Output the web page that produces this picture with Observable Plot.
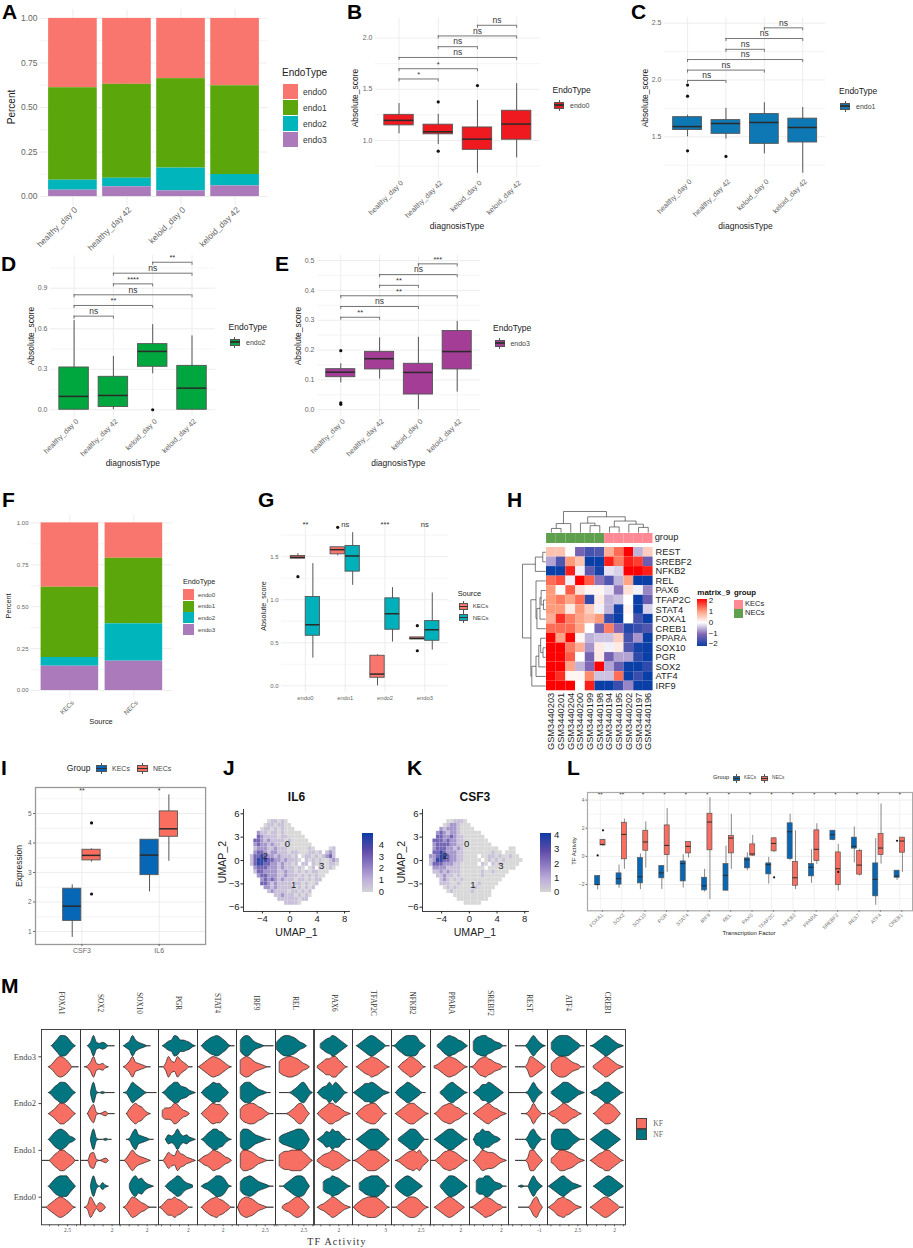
<!DOCTYPE html>
<html><head><meta charset="utf-8">
<script src="https://cdn.jsdelivr.net/npm/d3@7"></script>
<script src="https://cdn.jsdelivr.net/npm/@observablehq/plot@0.6"></script>
<style>
html,body{margin:0;padding:0;background:#fff}
#root{position:relative;width:913px;height:1248px;overflow:hidden;font-family:"Liberation Sans",Arial,sans-serif}
#root>div{position:absolute;white-space:nowrap;line-height:1}
</style></head><body><div id="root"></div>
<script>
// ---------- DATA ----------
const endoTypes=["endo0","endo1","endo2","endo3"];
const endoColors=["#F8766D","#5BA60A","#00B5BC","#AB7ABA"];
const diagnosis=["healthy_day 0","healthy_day 42","keloid_day 0","keloid_day 42"];
// segment heights: endo3, endo2, endo1, endo0
const pctA=[[.036,.056,.519,.389],[.055,.048,.527,.37],[.032,.128,.502,.338],[.06,.064,.498,.378]];
const sources=["KECs","NECs"];
const pctF=[[.145,.052,.419,.384],[.175,.223,.391,.211]];
// box stats: lo,q1,med,q3,hi,[outliers]
const boxesB=[[1.065,1.147,1.196,1.25,1.36,[]],[.96,1.06,1.085,1.154,1.255,[1.376,.895]],[.68,.908,1.013,1.127,1.39,[1.536]],[.83,1.007,1.16,1.29,1.555,[]]];
const bracketsB=[[1,2,1.6,"*"],[1,3,1.7,"*"],[1,4,1.81,"ns"],[2,3,1.915,"ns"],[2,4,2.02,"ns"],[3,4,2.124,"ns"]];
const boxesC=[[1.5,1.56,1.59,1.673,1.69,[1.955,1.858,1.377]],[1.48,1.526,1.617,1.647,1.75,[1.327]],[1.35,1.438,1.626,1.7,1.8,[]],[1.18,1.45,1.582,1.66,1.758,[]]];
const bracketsC=[[1,2,1.996,"ns"],[1,3,2.087,"ns"],[1,4,2.18,"ns"],[2,3,2.27,"ns"],[2,4,2.365,"ns"],[3,4,2.459,"ns"]];
const boxesD=[[0,0,.099,.313,.66,[]],[0,.02,.106,.244,.395,[]],[.266,.318,.432,.486,.63,[0]],[0,0,.16,.325,.547,[]]];
const bracketsD=[[1,2,.693,"ns"],[1,3,.772,"**"],[1,4,.851,"ns"],[2,3,.932,"****"],[2,4,1.011,"ns"],[3,4,1.092,"**"]];
const boxesE=[[.09,.109,.126,.136,.154,[.198,.023,.018]],[.103,.135,.171,.194,.241,[]],[0,.051,.125,.154,.243,[]],[.059,.135,.195,.264,.296,[]]];
const bracketsE=[[1,2,.31,"**"],[1,3,.346,"ns"],[1,4,.382,"**"],[2,3,.417,"**"],[2,4,.453,"ns"],[3,4,.489,"***"]];
const boxesGK=[[1.477,1.477,1.492,1.508,1.535,[1.267]],[1.51,1.527,1.581,1.609,1.609,[1.841]],[0,.093,.136,.349,.36,[]],[.54,.54,.55,.562,.554,[.698,.407]]];
const boxesGN=[[.322,.581,.709,1.031,1.419,[]],[1.167,1.326,1.508,1.624,1.779,[]],[.508,.651,.837,1.016,1.14,[]],[.415,.523,.651,.752,1.078,[]]];
const sigG=["**","ns","***","ns"];
const exprGenes=["CSF3","IL6"];
const boxesIK=[[.8,1.36,1.86,2.45,2.58,[]],[2.34,2.91,3.59,4.11,4.11,[]]];
const boxesIN=[[3.35,3.41,3.58,3.77,3.8,[4.68,2.27]],[3.38,4.21,4.48,5.07,5.63,[]]];
const sigI=["**","*"];
const tfL=["FOXA1","SOX2","SOX10","PGR","STAT4","IRF9","REL","PAX6","TFAP2C","NFKB2","PPARA","SREBF2","REST","ATF4","CREB1"];
const boxesLK=[[-2.39,-2.04,-2.01,-1.4,-1.4,[.07]],[-2.27,-2.01,-1.59,-1.21,-.62,[]],[-2.37,-1.92,-1.45,-.12,.17,[]],[-2.35,-1.56,-1.18,-.69,-.69,[]],[-2.25,-1.78,-.52,-.36,.12,[]],[-2.54,-2.42,-2.09,-1.52,-.92,[]],[-2.44,-2.44,-1.35,-.55,.73,[]],[-1.02,-.85,-.24,-.14,.26,[]],[-1.97,-1.28,-.59,-.5,-.07,[]],[-.31,-.19,1.75,2.35,2.99,[]],[-1.92,-1.42,-.78,-.55,.47,[]],[1.11,1.16,1.54,1.82,1.82,[]],[-.47,.55,.71,1.33,2.09,[]],[-3.48,-2.84,-1.64,-.5,1.26,[]],[-1.71,-1.52,-1.4,-1.02,-1.02,[1.11]]];
const boxesLN=[[.69,.78,.85,1.16,1.23,[1.85]],[-.92,-.21,1.56,2.39,2.65,[]],[-.83,.4,1.02,1.82,2.44,[]],[-1.14,.09,.78,2.2,3.39,[]],[-.12,.21,.71,1.02,1.02,[]],[-3.08,.43,2.44,3.03,4.17,[]],[-.92,.21,1.3,1.45,2.99,[]],[0,.05,.17,.85,1.49,[]],[.26,.36,.92,1.28,1.35,[-1.49]],[-2.37,-2.09,-1.52,-.4,1.82,[]],[-.57,-.33,.5,1.85,2.32,[]],[-2.46,-2.04,-.88,.28,.85,[-1.11]],[-1.4,-1.3,-.62,.38,.5,[]],[-.55,.09,.59,1.59,3.72,[]],[-1.14,.26,1.09,1.33,1.35,[]]];
const sigL=["**","**","*","*","*","*","*","*","*","*","*","*","*","*","*"];
// heatmap
const samples=["GSM3440203","GSM3440201","GSM3440204","GSM3440200","GSM3440199","GSM3440198","GSM3440194","GSM3440195","GSM3440202","GSM3440197","GSM3440196"];
const sampleGroups=["NECs","NECs","NECs","NECs","NECs","NECs","KECs","KECs","KECs","KECs","KECs"];
const heatTFs=["REST","SREBF2","NFKB2","REL","PAX6","TFAP2C","STAT4","FOXA1","CREB1","PPARA","SOX10","PGR","SOX2","ATF4","IRF9"];
const heatValues=[
[.6,.6,0,-1.1,-1.5,-1.4,.8,1.3,2,-.5,.5],
[-.6,-1.4,1,.6,-2,-2,1.8,1.2,1.8,1.6,-1.2],
[-2,-2,1.8,-.1,-1.3,-1.9,-.2,-.3,2,2,1.8],
[1.3,1.5,-.1,2,1.4,-.9,-1.4,-.5,.9,-2,-2],
[1,0,1.4,.3,.1,.1,-.2,-.9,.3,-.1,-.8],
[1,1.2,.9,1.3,-1.7,.2,-.5,-.4,0,-2,-1.2],
[1,1,.2,1,.5,-.1,-.5,-1.9,.1,-2,-.3],
[.8,1.7,1.2,.9,.7,1,-1.6,-2,0,-1.5,-2],
[1.3,1.3,1.3,.9,0,-1.1,1.2,-1,-1.8,-1.6,-1.4],
[2,.9,2,.1,-.5,-.4,-.4,.5,-1.5,-.7,-2],
[2,2,1.2,.8,-.7,.2,-.1,.2,-1.4,-1.9,-2],
[2,2,1.4,0,-1.1,.2,-1.1,-.6,-.6,-1.7,-2],
[2,2,.9,-.5,-1,2,-.6,-1.2,-2,-2,-1.7],
[2,1.7,.1,.1,1.1,-.4,-.4,1.3,-2,-1.6,-2],
[2,2,2,0,1.8,-2,-2,-1.6,-.8,-2,-2]];
// dendrograms: [height,left,right]
const colTree=[1,[.43,[.2,"GSM3440203","GSM3440201"],"GSM3440204"],[.75,[.45,"GSM3440200",[.33,"GSM3440199","GSM3440198"]],[.55,[.27,"GSM3440194","GSM3440195"],[.4,"GSM3440202",[.25,"GSM3440197","GSM3440196"]]]]];
const rowTree=[1,[.45,[.13,"REST","SREBF2"],"NFKB2"],[.64,[.42,"REL",[.38,[.25,[.2,"PAX6",[.1,"TFAP2C","STAT4"]],"FOXA1"],"CREB1"]],[.6,[.42,[.3,[.22,"PPARA",[.12,"SOX10","PGR"]],"SOX2"],"ATF4"],"IRF9"]]];
// UMAP expression, digit = level on a grid; rows y=5 ... -5.5, cols x=-5.5 ...
const umapIL6=[
".....011010.................",
"....01101100................",
"...0110101000...............",
"..2110110100000.............",
"..32111101100000............",
".3321211110100000...........",
".23221211010000000..........",
".122211211100000010....01...",
".23321221110110001101.121...",
"13343221211101.0110101231..",
"134443322121110.1010100121.",
"13443322121101.11.10100110..",
".233322212111010.01.10010...",
".1332222112110101011000.....",
"..23322211211101010100......",
"...232321211101101011.......",
"...33212111101101001........",
"....221211111010101.........",
".....1211110110101..........",
".......11211101010..........",
"........111111011...........",
"..........11110............."];
const umapCSF3=[
".....001110.................",
"....01221000................",
"...2122210000...............",
"..2321221000000.............",
"..33223211000000............",
".3332322110000000...........",
".23333221100000000..........",
".2333221210000000000...00...",
".33432221100000000100.000...",
"22344322110000.00110100100..",
"124433221100000.01010100000.",
"13332221100000.10.10100000..",
".222211110000000.00000000...",
".1121211100000010010000.....",
"..11211010000001000000......",
"...121010100000000000.......",
"...11100100000100000........",
"....010100000100000.........",
".....0100000100000..........",
".......00000000000..........",
"........000000000...........",
"..........00000............."];
const umapLabels=["0","1","2","3"];
const umapLabelXJ=[-.35,.57,-3.56,4.66], umapLabelYJ=[2.1,-3.08,.55,-.64];
const umapLabelXK=[-.4,.5,-3.5,4.55], umapLabelYK=[2.1,-3.08,.55,-.64];
// violins: each string samples half-height (0-9) across the facet; order Endo3 NF,KF, Endo2 NF,KF, Endo1 NF,KF, Endo0 NF,KF
const vFOXA1=["...036998520.","..02589863000","..0257998520.","..0247997520.","..0368986320.","0002579975300","..0368999630.","002468986410."];
const vSOX2=["..0393232000.",".014932310...","...191010000.","..0581012000.","...19100100..","0006710120...","...1920310...",".02951430...."];
const vSOX10=[".0249532100..",".0259432100..",".015975310000","..047976310..","..0169432100.","00269643210..","...279674210.",".026986431000"];
const vPGR=[".024598554310","003954964200.",".025799654210",".3556985320..","..04359534210","0037549653210","..0357985321.","025779764200."];
const vSTAT4=[".035789864100","024689875310.",".0357988530..",".0358988630..",".02579976310.","024579875320.",".02357998510.",".035789764200"];
const vIRF9=[".589853210000",".68986432100.",".58997532100.",".478998653100",".69986432100.",".699875321000",".478986432100","0689875321000"];
const vREL=["36899875320..",".57899875320.",".000013589620","000013589730.",".24567899850.",".578899997520",".00246899840.","..1346898630."];
const vPAX6=["..2467986420.",".13577996410.",".03569697410.",".035799764210",".024769774200",".135679875310","...4679875310",".023579864210"];
const vTFAP2C=[".024689864200",".024679875310","0246889864210",".03578997410.",".024689997520","0135799986420","..35789997510","0357899986410"];
const vNFKB2=["014689998420.","..0357986410.",".03579864200.",".024689975310","..13579985200",".013578979530",".1468986420..","0024689986310"];
const vPPARA=["..13689875420",".124689875310","...1368975310",".025789865310",".024689975310","0024789875310","...1479986420",".02468986420."];
const vSREBF2=[".478997643200","0147897643200",".02477986420.",".024689754210",".0569775320..",".036987764210","..57799743200","0135798753200"];
const vREST=["..00002696310","..00003986420","000000159520.","....001495200","..00002795200","..0000299630.","...010059520.","...000027940."];
const vATF4=[".368999864200",".368998643200",".135799864210","023579864310.",".489999853100",".247998764210","024689753210.","024789764210."];
const vCREB1=[".013579864210","..13579864210",".023579975310","..0257998630.",".02468986420.",".024679975310","..02468986420",".024689864200"];
const violinGenes=["FOXA1","SOX2","SOX10","PGR","STAT4","IRF9","REL","PAX6","TFAP2C","NFKB2","PPARA","SREBF2","REST","ATF4","CREB1"];
const violinProfiles=[vFOXA1,vSOX2,vSOX10,vPGR,vSTAT4,vIRF9,vREL,vPAX6,vTFAP2C,vNFKB2,vPPARA,vSREBF2,vREST,vATF4,vCREB1];
const violinDomains=[[1.05,3.22],[.24,2.41],[.46,2.63],[.33,2.5],[.57,2.74],[.9,3.07],[.92,3.09],[.59,2.76],[1.16,3.33],[.85,3.02],[.31,2.48],[.22,2.39],[-2.73,-.56],[.81,2.98],[.44,2.61]];
const violinTick=[2.5,2,2,2,2,2.5,2.5,2,3,2.5,2,2,-1,2.5,2];
const endoRows=["Endo0","Endo1","Endo2","Endo3"];

// ---------- HELPERS ----------
const root=document.getElementById("root");
const SANS="'Liberation Sans',Arial,sans-serif", SERIF="'Liberation Serif',serif";
function T(x,y,s,o={}){const d=document.createElement("div");d.textContent=s;
 const a=o.anchor==="start"?"0%":o.anchor==="end"?"-100%":"-50%";
 d.style.cssText=`left:${x}px;top:${y}px;font-size:${o.size||10}px;font-weight:${o.weight||"normal"};color:${o.color||"#222"};font-family:${o.family||SANS};letter-spacing:${o.spacing||0}px;transform:translate(${a},-50%) rotate(${o.rot||0}deg);`;
 root.append(d);}
function R(x,y,w,h,css){const d=document.createElement("div");d.style.cssText=`left:${x}px;top:${y}px;width:${w}px;height:${h}px;box-sizing:border-box;${css}`;root.append(d);}
function boxKey(x,y,w,h,color){R(x+w/2-.4,y-h/2-2,.8,h+4,"background:#555");R(x,y-h/2,w,h,`background:${color};border:1px solid #555`);R(x,y-.6,w,1.2,"background:#333");}
function place(rect,opts,extraStyle={}){const {l,t,r,b}=rect;
 const el=Plot.plot({width:r-l,height:b-t,marginLeft:0,marginRight:0,marginTop:0,marginBottom:0,
  style:{overflow:"visible",background:"transparent",fontFamily:SANS,position:"absolute",left:l+"px",top:t+"px",maxWidth:"none",...extraStyle},...opts});
 root.append(el);return el;}
const GRID="#ebebeb";
const gridY=(maj,min)=>[Plot.gridY(min,{stroke:GRID,strokeOpacity:1,strokeWidth:.5}),Plot.gridY(maj,{stroke:GRID,strokeOpacity:1,strokeWidth:.9})];
function boxMarks(stats,xs,width,color,o={}){
 const d=stats.map((s,i)=>({x:xs[i],lo:s[0],q1:s[1],med:s[2],q3:s[3],hi:s[4]}));
 const out=stats.flatMap((s,i)=>s[5].map(v=>({x:xs[i],v})));
 return [
  Plot.ruleX(d,{x:"x",y1:"lo",y2:"hi",stroke:"#555",strokeWidth:o.sw||1}),
  Plot.rect(d,{x1:e=>e.x-width/2,x2:e=>e.x+width/2,y1:"q1",y2:"q3",fill:color,stroke:"#555",strokeWidth:o.sw||.9}),
  Plot.ruleY(d,{x1:e=>e.x-width/2,x2:e=>e.x+width/2,y:"med",stroke:"#2a2a2a",strokeWidth:o.mw||1.5}),
  Plot.dot(out,{x:"x",y:"v",r:o.r||1.6,fill:"#111"})
 ];
}
function sigPanel(rect,yDomain,maj,min,boxes,brackets,color){
 const tip=3*(yDomain[1]-yDomain[0])/(rect.b-rect.t);
 const xs=[1,2,3,4];
 place(rect,{x:{domain:[.4,4.6]},y:{domain:yDomain},marks:[
  ...gridY(maj,min),
  Plot.ruleX(xs,{stroke:GRID,strokeWidth:.9}),
  ...boxMarks(boxes,xs,.75,color),
  Plot.ruleY(brackets,{x1:d=>d[0],x2:d=>d[1],y:d=>d[2],stroke:"#666",strokeWidth:.9}),
  Plot.ruleX(brackets,{x:d=>d[0],y1:d=>d[2]-tip,y2:d=>d[2],stroke:"#666",strokeWidth:.9}),
  Plot.ruleX(brackets,{x:d=>d[1],y1:d=>d[2]-tip,y2:d=>d[2],stroke:"#666",strokeWidth:.9}),
  Plot.text(brackets.filter(d=>d[3]==="ns"),{x:d=>(d[0]+d[1])/2,y:d=>d[2],text:d=>d[3],dy:-5,fontSize:8.5,fill:"#333"}),
  Plot.text(brackets.filter(d=>d[3]!=="ns"),{x:d=>(d[0]+d[1])/2,y:d=>d[2],text:d=>d[3],dy:-4.5,fontSize:7.5,fill:"#333"}),
  Plot.axisY({ticks:maj,tickFormat:d3.format(".1f"),tickSize:0,tickPadding:3,fontSize:7,color:"#666",label:null}),
  Plot.axisX({ticks:xs,tickFormat:i=>diagnosis[i-1],tickRotate:-45,tickSize:0,tickPadding:3,dx:3,fontSize:7.3,color:"#666",label:null})
 ]});
}
function stackedPanel(rect,cats,pct,yfs,xfs,pad){
 const data=cats.flatMap((c,i)=>endoTypes.map((t,j)=>({cat:c,type:t,v:pct[i][3-j]})));
 place(rect,{x:{domain:cats,paddingInner:.1,paddingOuter:.15,round:false},y:{domain:[-.05,1.05]},
  color:{domain:endoTypes,range:endoColors},marks:[
  ...gridY([0,.25,.5,.75,1],[.125,.375,.625,.875]),
  Plot.ruleX(cats,{x:d=>d,stroke:GRID,strokeWidth:.9}),
  Plot.barY(data,{x:"cat",y:"v",fill:"type",order:["endo3","endo2","endo1","endo0"]}),
  Plot.axisY({ticks:[0,.25,.5,.75,1],tickFormat:d3.format(".2f"),tickSize:0,tickPadding:pad,fontSize:yfs,color:"#666",label:null}),
  Plot.axisX({tickRotate:-45,tickSize:0,tickPadding:pad,dx:3,fontSize:xfs,color:"#666",label:null})
 ]});
}

// ---------- PANEL LETTERS ----------
[["A",2,11],["B",347,10.5],["C",631,10.5],["D",1,262.5],["E",275,262.5],["F",2,499],["G",258,499],["H",507,499],["I",1,767],["J",223,767],["K",407,767],["L",567,767],["M",1,984.5]]
.forEach(([s,x,y])=>T(x,y,s,{size:21,weight:"bold",anchor:"start",color:"#000"}));

// ---------- A ----------
stackedPanel({l:40,r:267,t:9,b:205},diagnosis,pctA,8.5,8.5,3);
T(12,107,"Percent",{size:10,rot:-90});
T(282,73,"EndoType",{size:10,anchor:"start"});
endoTypes.forEach((t,i)=>{R(283,84+i*16,15,15,`background:${endoColors[i]}`);T(303,91.5+i*16,t,{size:8.5,anchor:"start",color:"#333"});});

// ---------- B-E ----------
const SZ=8.5, KS=7;
sigPanel({l:375,r:539.7,t:16.7,b:178},[.626,2.2],[1,1.5,2],[.75,1.25,1.75],boxesB,bracketsB,"#EF1A20");
T(354.7,98,"Absolute_score",{size:SZ,rot:-90});T(457,226,"diagnosisType",{size:SZ});
T(552.5,90,"EndoType",{size:SZ,anchor:"start"});boxKey(554,105,10,7,"#EF1A20");T(570,105,"endo0",{size:KS,anchor:"start",color:"#444"});

sigPanel({l:664,r:825.3,t:16.7,b:176.7},[1.142,2.55],[1.5,2,2.5],[1.25,1.75,2.25],boxesC,bracketsC,"#0E78B4");
T(644.8,98,"Absolute_score",{size:SZ,rot:-90});T(745.5,226,"diagnosisType",{size:SZ});
T(839,91,"EndoType",{size:SZ,anchor:"start"});boxKey(840,106,10,7,"#0E78B4");T(856,106,"endo1",{size:KS,anchor:"start",color:"#444"});

sigPanel({l:50.3,r:215.4,t:255,b:416.7},[-.055,1.142],[0,.3,.6,.9],[.15,.45,.75,1.05],boxesD,bracketsD,"#00A63E");
T(30.5,336,"Absolute_score",{size:SZ,rot:-90});T(132.8,463.3,"diagnosisType",{size:SZ});
T(228.6,327,"EndoType",{size:SZ,anchor:"start"});boxKey(229.7,342,10,7,"#00A63E");T(246,342,"endo2",{size:KS,anchor:"start",color:"#444"});

sigPanel({l:317,r:480,t:255,b:416.7},[-.025,.517],[0,.1,.2,.3,.4,.5],[.05,.15,.25,.35,.45],boxesE,bracketsE,"#A33D96");
T(298,336,"Absolute_score",{size:SZ,rot:-90});T(398.4,463.3,"diagnosisType",{size:SZ});
T(493,328,"EndoType",{size:SZ,anchor:"start"});boxKey(494.6,343,10,7,"#A33D96");T(510.4,343,"endo3",{size:KS,anchor:"start",color:"#444"});

// ---------- F ----------
stackedPanel({l:30.6,r:171.4,t:514.3,b:698.7},sources,pctF,6,6.4,3);
T(9,606,"Percent",{size:7.2,rot:-90});T(101,722,"Source",{size:7.4});
T(183,581.7,"EndoType",{size:7.2,anchor:"start"});
endoTypes.forEach((t,i)=>{R(183.3,589+i*11.7,11,11,`background:${endoColors[i]}`);T(198,594.7+i*11.7,t,{size:6.2,anchor:"start",color:"#444"});});

// ---------- G ----------
{const KC="#F8766D",NC="#00B0BA",cx=[1,2,3,4];
 place({l:280.5,r:447.7,t:520,b:691.7},{x:{domain:[.4,4.6]},y:{domain:[-.074,1.92]},marks:[
  ...gridY([0,.5,1,1.5],[.25,.75,1.25,1.75]),
  Plot.ruleX(cx,{stroke:GRID,strokeWidth:.9}),
  ...boxMarks(boxesGK,cx.map(c=>c-.188),.36,KC),
  ...boxMarks(boxesGN,cx.map(c=>c+.188),.36,NC),
  Plot.text(sigG,{x:(d,i)=>i+1,y:()=>1.875,text:d=>d,fontSize:7.6,fill:"#333"}),
  Plot.axisY({ticks:[0,.5,1,1.5],tickFormat:d3.format(".1f"),tickSize:0,tickPadding:3,fontSize:6,color:"#666",label:null}),
  Plot.axisX({ticks:cx,tickFormat:i=>endoTypes[i-1],tickSize:0,tickPadding:4,fontSize:5.8,color:"#666",label:null})
 ]});
 T(263.7,606,"Absolute_score",{size:7.2,rot:-90});
 T(457.7,593.7,"Source",{size:7.4,anchor:"start"});
 boxKey(459.3,606.3,9,6.5,KC);T(472.7,606.3,"KECs",{size:6.1,anchor:"start",color:"#444"});
 boxKey(459.3,617.7,9,6.5,NC);T(472.7,617.7,"NECs",{size:6.1,anchor:"start",color:"#444"});
}

// ---------- H ----------
{const heatDomain=[-2,-1,0,1,2],heatRange=["#0B3FA8","#8066B4","#FFFFFF","#FF9A7A","#FF0000"];
 const cells=heatTFs.flatMap((tf,i)=>samples.map((s,j)=>({tf,s,v:heatValues[i][j]})));
 const rect={l:545.7,r:652.3,t:546.7,b:690};
 place(rect,{x:{domain:samples,padding:0,round:false},y:{domain:heatTFs,padding:0,round:false},
  color:{type:"linear",domain:heatDomain,range:heatRange,clamp:true},marks:[
  Plot.cell(cells,{x:"s",y:"tf",fill:"v"}),
  Plot.axisX({anchor:"bottom",tickRotate:-90,tickSize:0,tickPadding:2,fontSize:9.3,color:"#222",label:null}),
  Plot.axisY({anchor:"right",tickSize:0,tickPadding:2.5,fontSize:9.3,color:"#222",label:null})
 ]});
 place({l:545.7,r:652.3,t:533.3,b:543.3},{x:{domain:samples,padding:0,round:false,axis:null},
  color:{domain:["KECs","NECs"],range:["#FF8A96","#5FA04E"]},marks:[
  Plot.cell(samples.map((s,i)=>({s,g:sampleGroups[i]})),{x:"s",fill:"g"})]});
 T(654.7,538,"group",{size:9.3,anchor:"start"});
 const layout=(node,order,segs)=>{ if(typeof node==="string")return {p:order.indexOf(node)+.5,h:0};
  const a=layout(node[1],order,segs),b=layout(node[2],order,segs),h=node[0];
  segs.push({p1:a.p,h1:a.h,p2:a.p,h2:h},{p1:a.p,h1:h,p2:b.p,h2:h},{p1:b.p,h1:b.h,p2:b.p,h2:h});
  return {p:(a.p+b.p)/2,h};};
 const segC=[];layout(colTree,samples,segC);
 place({l:545.7,r:652.3,t:510.5,b:531.7},{x:{domain:[0,11],axis:null},y:{domain:[0,1],axis:null},marks:[
  Plot.link(segC,{x1:"p1",x2:"p2",y1:"h1",y2:"h2",stroke:"#444",strokeWidth:.7})]});
 const segR=[];layout(rowTree,heatTFs,segR);
 place({l:521.7,r:545,t:546.7,b:690},{x:{domain:[1,0],axis:null},y:{domain:[15,0],axis:null},marks:[
  Plot.link(segR,{y1:"p1",y2:"p2",x1:"h1",x2:"h2",stroke:"#444",strokeWidth:.7})]});
 T(697.3,593,"matrix_9",{size:8,weight:"bold",anchor:"start",color:"#111"});
 R(697.3,599.3,9.4,46.7,"background:linear-gradient(to bottom,#FF0000,#FF9A7A 25%,#FFFFFF 50%,#8066B4 75%,#0B3FA8)");
 [["2",600.7],["1",612],["0",623],["\u22121",634],["\u22122",644.3]].forEach(([s,y])=>T(708.7,y,s,{size:8,anchor:"start"}));
 T(734,593,"group",{size:7.8,weight:"bold",anchor:"start",color:"#111"});
 R(734,600,8.7,8.7,"background:#FF8A96");R(734,608.9,8.7,8.7,"background:#5FA04E");
 T(745,604.3,"KECs",{size:7.5,anchor:"start"});T(745,613.2,"NECs",{size:7.5,anchor:"start"});
}

// ---------- I ----------
{const KC="#0567B5",NC="#FA6E60",cx=[1,2];
 place({l:34.5,r:204.6,t:787.3,b:944.3},{x:{domain:[.4,2.6]},y:{domain:[.56,5.88]},marks:[
  ...gridY([1,2,3,4,5],[1.5,2.5,3.5,4.5,5.5]),
  Plot.ruleX(cx,{stroke:GRID,strokeWidth:.9}),
  ...boxMarks(boxesIK,cx.map(c=>c-.125),.235,KC),
  ...boxMarks(boxesIN,cx.map(c=>c+.125),.235,NC),
  Plot.text(sigI,{x:(d,i)=>i+1,y:()=>5.78,text:d=>d,fontSize:7,fill:"#333"}),
  Plot.frame({stroke:"#999",strokeWidth:1.3}),
  Plot.axisY({ticks:[1,2,3,4,5],tickFormat:d3.format("d"),tickSize:2,tickPadding:2,fontSize:6.5,color:"#666",label:null}),
  Plot.axisX({ticks:cx,tickFormat:i=>exprGenes[i-1],tickSize:2,tickPadding:2,fontSize:7,color:"#666",label:null})
 ]});
 T(19.4,865.7,"Expression",{size:8.5,rot:-90});
 T(66.8,768.3,"Group",{size:8.5,anchor:"start"});
 boxKey(96.2,768.3,10.8,7.5,KC);T(112,768.3,"KECs",{size:7,anchor:"start",color:"#444"});
 boxKey(137,768.3,10.8,7.5,NC);T(153,768.3,"NECs",{size:7,anchor:"start",color:"#444"});
}

// ---------- J, K ----------
function umapPanel(rows,xDomain,rect,title,labX,labY,titleX,yLabX,barX,barTicks,labelX){
 const cells=rows.flatMap((row,r)=>[...row].flatMap((c,i)=>c==="."?[]:[{x:-5.5+.5*i,y:5-.5*r,v:+c}]));
 place(rect,{x:{domain:xDomain,axis:null},y:{domain:[-6.55,6.55],axis:null},
  color:{type:"linear",domain:[0,1,2,3,4],range:["#D8D8D8","#C9C1DA","#A497CB","#7566B5","#3346A6"]},marks:[
  Plot.rect(cells,{x1:d=>d.x-.25,x2:d=>d.x+.25,y1:d=>d.y-.25,y2:d=>d.y+.25,fill:"v"})]},{filter:"blur(0.7px)"});
 place(rect,{x:{domain:xDomain},y:{domain:[-6.55,6.55]},marks:[
  Plot.text(umapLabels,{x:(d,i)=>labX[i],y:(d,i)=>labY[i],text:d=>d,fontSize:9.5,fill:"#222"}),
  Plot.ruleX([xDomain[0]],{stroke:"#222",strokeWidth:.9}),
  Plot.ruleY([-6.55],{stroke:"#222",strokeWidth:.9}),
  Plot.axisY({ticks:[-6,-3,0,3,6],tickFormat:d3.format("d"),tickSize:2.5,tickPadding:1.5,fontSize:9.5,color:"#222",label:null}),
  Plot.axisX({ticks:[-4,0,4,8],tickFormat:d3.format("d"),tickSize:2.5,tickPadding:1.5,fontSize:9.5,color:"#222",label:null})
 ]});
 T(titleX,796.7,title,{size:12,weight:"bold",color:"#111"});
 T(titleX,931.7,"UMAP_1",{size:10.6});
 T(yLabX,861.7,"UMAP_2",{size:10.6,rot:-90});
 R(barX,833.3,11.5,58.7,"background:linear-gradient(to bottom,#0C3BA5,#5F4BA9 30%,#8F7CC3 55%,#BDAEDA 78%,#D4D4D4)");
 barTicks.forEach(([s,y])=>T(labelX,y,s,{size:9.5,anchor:"start"}));
}
umapPanel(umapIL6,[-6.76,8.85],{l:243.4,r:350.3,t:809,b:911},"IL6",umapLabelXJ,umapLabelYJ,296.5,222,361.8,[["4",845],["3",856.7],["2",868.3],["1",880],["0",892]],378.7);
umapPanel(umapCSF3,[-6.76,8.67],{l:421.8,r:528.7,t:809,b:911},"CSF3",umapLabelXK,umapLabelYK,474.9,400.6,539.5,[["4",835],["3",849.3],["2",863.7],["1",877.7],["0",892]],554);

// ---------- L ----------
{const KC="#0567B5",NC="#FA6E60",cx=tfL.map((d,i)=>i+1);
 place({l:586.9,r:912,t:791.7,b:910},{x:{domain:[.4,15.6]},y:{domain:[-3.87,4.54]},marks:[
  ...gridY([-2,0,2,4],[-3,-1,1,3]),
  Plot.ruleX(cx,{stroke:GRID,strokeWidth:.7}),
  ...boxMarks(boxesLK,cx.map(c=>c-.125),.234,KC,{sw:.7,mw:1,r:1.1}),
  ...boxMarks(boxesLN,cx.map(c=>c+.125),.234,NC,{sw:.7,mw:1,r:1.1}),
  Plot.text(sigL,{x:(d,i)=>i+1,y:()=>4.4,text:d=>d,fontSize:6.5,fill:"#333"}),
  Plot.frame({stroke:"#aaa",strokeWidth:1.2}),
  Plot.axisY({ticks:[-2,0,2,4],tickFormat:d3.format("d"),tickSize:1.5,tickPadding:1.5,fontSize:5,color:"#666",label:null}),
  Plot.axisX({ticks:cx,tickFormat:i=>tfL[i-1],tickRotate:-45,tickSize:1.5,tickPadding:2,dx:2,fontSize:5.2,color:"#777",label:null})
 ]});
 T(749,933.3,"Transcription Factor",{size:6});
 T(574.3,851,"TF Activity",{size:6,rot:-90});
 T(713,778.3,"Group",{size:5.8,anchor:"start"});
 boxKey(733,778.3,7,5,KC);T(744,778.3,"KECs",{size:4.7,anchor:"start",color:"#444"});
 boxKey(761,778.3,7,5,NC);T(772,778.3,"NECs",{size:4.7,anchor:"start",color:"#444"});
}

// ---------- M ----------
{const TEAL="#017681",CORAL="#F66F62",left=40.7,step=38.97,top=1029,bottom=1224.3,centers=[4,3,2,1];
 violinGenes.forEach((g,k)=>{
  const [d0,d1]=violinDomains[k];
  const pts=[];
  violinProfiles[k].forEach((s,v)=>{
   const isNF=v%2===0,c=centers[Math.floor(v/2)]+(isNF?.225:-.225);
   [...s].forEach((ch,i)=>{if(ch!==".")pts.push({id:v,nf:isNF,c,x:d0+(i+.5)/13*(d1-d0),w:+ch/9*.22});});
  });
  const ticks=d3.range(Math.ceil(d0*2)/2,d1,.5);
  const marks=[
   Plot.areaY(pts.filter(p=>p.nf),{x:"x",y1:d=>d.c-d.w,y2:d=>d.c+d.w,z:"id",fill:TEAL,stroke:"#1d1d1d",strokeWidth:.7,curve:"monotone-x"}),
   Plot.areaY(pts.filter(p=>!p.nf),{x:"x",y1:d=>d.c-d.w,y2:d=>d.c+d.w,z:"id",fill:CORAL,stroke:"#1d1d1d",strokeWidth:.7,curve:"monotone-x"}),
   Plot.frame({stroke:"#333",strokeWidth:.9}),
   Plot.axisX({ticks,tickFormat:t=>t===violinTick[k]?String(t):"",tickSize:2,tickPadding:1.5,fontSize:5.5,color:"#555",fontFamily:SERIF,label:null})
  ];
  if(k===0)marks.push(Plot.axisY({ticks:[1,2,3,4],tickFormat:i=>endoRows[i-1],tickSize:2.5,tickPadding:3,fontSize:8.5,fontFamily:SERIF,color:"#444",label:null}));
  place({l:left+k*step,r:left+(k+1)*step,t:top,b:bottom},{x:{domain:[d0,d1]},y:{domain:[.41,4.583],axis:k===0?undefined:null},marks});
  T(left+(k+.5)*step,1003,g,{size:7.2,rot:90,family:SERIF,color:"#333"});
 });
 T(337,1242,"TF Activity",{size:10,family:SERIF,color:"#333",spacing:1.2});
 R(636.3,1118.3,11,11,`background:${CORAL};border:.7px solid #444`);
 R(636.3,1129.3,11,11,`background:${TEAL};border:.7px solid #444`);
 T(653.3,1123.8,"KF",{size:7.5,anchor:"start",family:SERIF,color:"#666"});
 T(653.3,1134.8,"NF",{size:7.5,anchor:"start",family:SERIF,color:"#666"});
}
</script></body></html>
